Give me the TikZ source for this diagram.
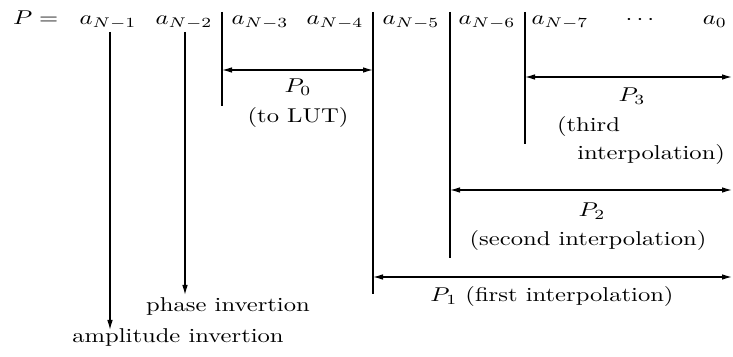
\documentclass[tikz,border=0pt]{standalone}
\usepackage{graphicx}
\usetikzlibrary{arrows.meta}
\newcommand{\sx}[1]{\scalebox{1.23}[1]{#1}}
\begin{document}
\begin{tikzpicture}[x=0.5pt,y=-0.5pt,
  lbl/.style={inner sep=0pt, outer sep=0pt, anchor=base},
  sepline/.style={line width=0.6pt},
  arr/.style={line width=0.6pt,-{Latex[length=5pt,width=2.8pt]}},
  darr/.style={line width=0.6pt,{Latex[length=5pt,width=2.8pt]}-{Latex[length=5pt,width=2.8pt]}}]
\useasboundingbox (0,0) rectangle (733,357);
% top row
\node[lbl, anchor=base west] (P) at (13,25) {\sx{$P =$}};
\node[lbl] (a1) at (108,25) {\sx{$a_{N-1}$}};
\node[lbl] (a2) at (184,25) {\sx{$a_{N-2}$}};
\node[lbl] (a3) at (260,25) {\sx{$a_{N-3}$}};
\node[lbl] (a4) at (335,25) {\sx{$a_{N-4}$}};
\node[lbl] (a5) at (411,25) {\sx{$a_{N-5}$}};
\node[lbl] (a6) at (487,25) {\sx{$a_{N-6}$}};
\node[lbl] (a7) at (560,25) {\sx{$a_{N-7}$}};
\node[lbl] (dots) at (640,25) {\sx{$\cdots$}};
\node[lbl] (a0) at (715,25) {\sx{$a_0$}};
% separators
\coordinate (s1t) at (222,12); \coordinate (s1b) at (222,106);
\coordinate (s2t) at (373,12); \coordinate (s2b) at (373,294);
\coordinate (s3t) at (450,12); \coordinate (s3b) at (450,258);
\coordinate (s4t) at (525,12); \coordinate (s4b) at (525,144);
\draw[sepline] (s1t) -- (s1b);
\draw[sepline] (s2t) -- (s2b);
\draw[sepline] (s3t) -- (s3b);
\draw[sepline] (s4t) -- (s4b);
% range arrows
\coordinate (r0) at (733,70);
\coordinate (r3) at (732,77);
\coordinate (r2) at (732,190);
\coordinate (r1) at (732,277);
\draw[darr] (s1t |- r0) -- (s2t |- r0);
\draw[darr] (s4t |- r3) -- (r3);
\draw[darr] (s3t |- r2) -- (r2);
\draw[darr] (s2t |- r1) -- (r1);
% labels
\node[lbl] (P0) at (298,93) {\sx{$P_0$}};
\node[lbl] (lut) at (298,123) {\sx{(to LUT)}};
\node[lbl] (P3) at (632,102) {\sx{$P_3$}};
\node[lbl, anchor=base west] (third) at (557,132) {\sx{(third}};
\node[lbl, anchor=base east] (interp) at (725,160) {\sx{interpolation)}};
\node[lbl] (P2) at (592,217) {\sx{$P_2$}};
\node[lbl] (second) at (588,246) {\sx{(second interpolation)}};
\node[lbl] (P1) at (552,302) {\sx{$P_1$ (first interpolation)}};
\node[lbl] (phase) at (228,312) {\sx{phase invertion}};
\node[lbl] (amp) at (178,343) {\sx{amplitude invertion}};
% inversion arrows
\coordinate (a1s) at (110,32); \coordinate (a1e) at (110,330);
\coordinate (a2s) at (185,32); \coordinate (a2e) at (185,295);
\draw[arr] (a1s) -- (a1e);
\draw[arr] (a2s) -- (a2e);
\end{tikzpicture}
\end{document}
